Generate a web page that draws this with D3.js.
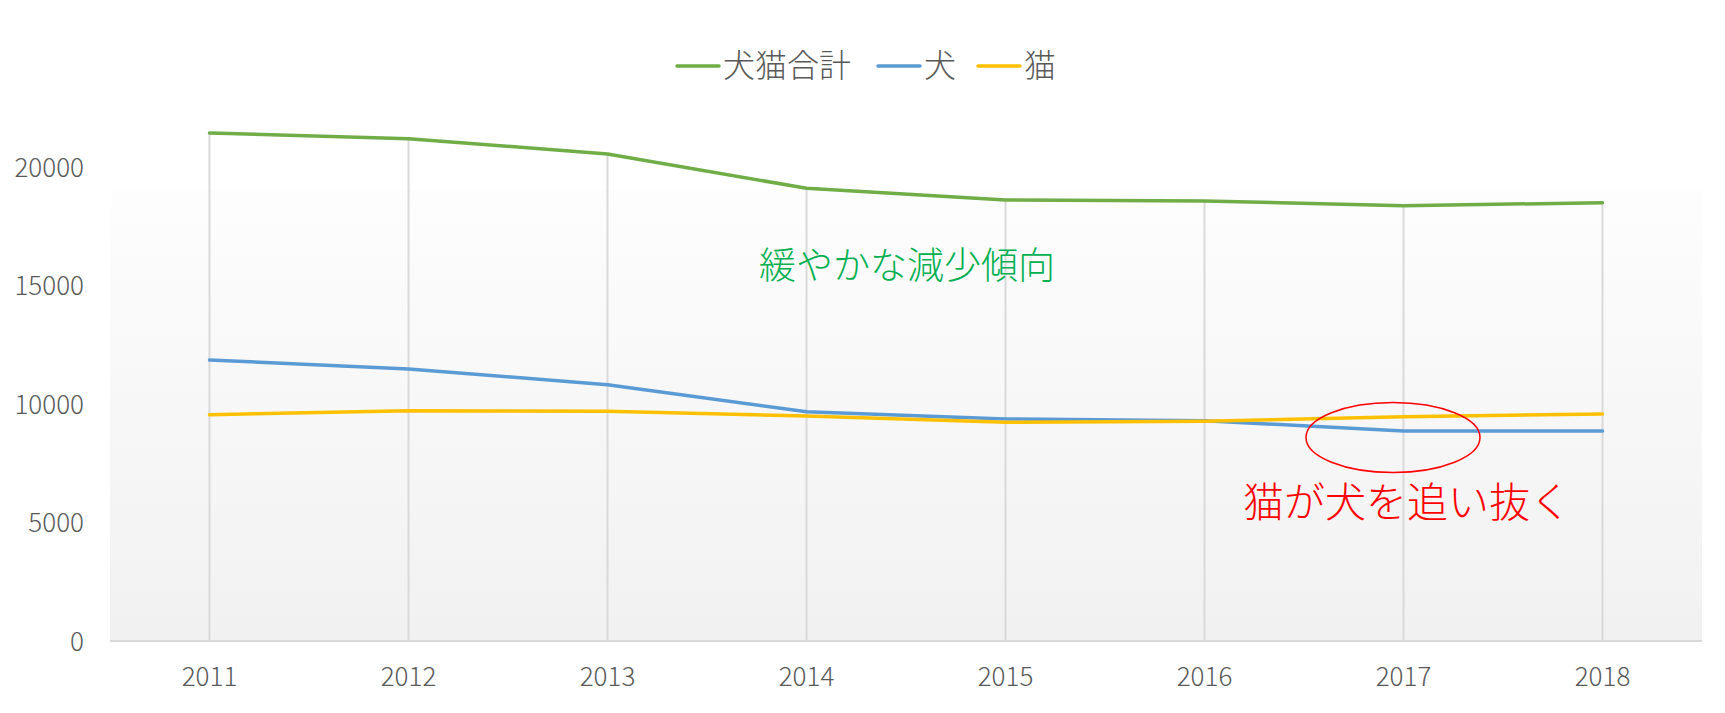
<!DOCTYPE html>
<html>
<head>
<meta charset="utf-8">
<script src="https://cdn.jsdelivr.net/npm/d3@7"></script>
<style>
  html, body { margin: 0; padding: 0; background: #ffffff; }
  svg { display: block; }
  text { font-family: "Noto Sans CJK JP", "Noto Sans", sans-serif; font-weight: 300; }
</style>
</head>
<body>
<svg id="chart" width="1725" height="713"></svg>
<script>
// ---- data ----
const years = ["2011", "2012", "2013", "2014", "2015", "2016", "2017", "2018"];
const totalValues = [21435, 21194, 20549, 19101, 18608, 18565, 18367, 18494];
const dogValues   = [11857, 11477, 10814, 9675, 9367, 9295, 8861, 8861];
const catValues   = [9548, 9717, 9692, 9493, 9228, 9270, 9464, 9578];
const seriesNames = ["犬猫合計", "犬", "猫"];
const yTicks = [0, 5000, 10000, 15000, 20000];
const noteTrend = "緩やかな減少傾向";
const noteCross = "猫が犬を追い抜く";

const seriesColors = ["#70AD47", "#5B9BD5", "#FFC000"];
const series = [totalValues, dogValues, catValues].map((vals, i) => ({
  name: seriesNames[i], color: seriesColors[i], values: vals
}));

// ---- layout ----
const svg = d3.select("#chart");
const plot = { left: 110, right: 1702, top: 190, bottom: 641 };

const x = d3.scaleBand().domain(years).range([plot.left, plot.right]);
const y = d3.scaleLinear().domain([0, 20000]).range([641, 167]);
const cx = d => x(d) + x.bandwidth() / 2;

// plot-area gradient background
const defs = svg.append("defs");
const grad = defs.append("linearGradient").attr("id", "bg")
  .attr("x1", 0).attr("y1", 0).attr("x2", 0).attr("y2", 1);
grad.append("stop").attr("offset", "0%").attr("stop-color", "#fdfdfd");
grad.append("stop").attr("offset", "100%").attr("stop-color", "#f1f1f1");
svg.append("rect")
  .attr("x", plot.left).attr("y", plot.top)
  .attr("width", plot.right - plot.left).attr("height", plot.bottom - plot.top)
  .attr("fill", "url(#bg)");

// drop lines (from the highest point down to the category axis)
svg.append("g").selectAll("line").data(years).join("line")
  .attr("x1", d => cx(d)).attr("x2", d => cx(d))
  .attr("y1", (d, i) => y(d3.max(series, s => s.values[i])))
  .attr("y2", y(0))
  .attr("stroke", "#d9d9d9").attr("stroke-width", 2);

// category axis line
svg.append("line")
  .attr("x1", plot.left).attr("x2", plot.right)
  .attr("y1", y(0)).attr("y2", y(0))
  .attr("stroke", "#d9d9d9").attr("stroke-width", 2);

// y axis labels
const yAxis = d3.axisLeft(y).tickValues(yTicks).tickSize(0).tickPadding(0)
  .tickFormat(d3.format("d"));
const gy = svg.append("g").attr("transform", "translate(84,0)").call(yAxis);
gy.select(".domain").remove();
gy.selectAll("text")
  .attr("fill", "#595959").style("font-size", "26px")
  .attr("dy", "0.35em")
  .style("font-family", "\"Noto Sans CJK JP\", sans-serif")
  .style("font-weight", 300);

// x axis labels
const xAxis = d3.axisBottom(x).tickSize(0).tickPadding(0);
const gx = svg.append("g").attr("transform", "translate(0,677)").call(xAxis);
gx.select(".domain").remove();
gx.selectAll("text")
  .attr("fill", "#595959").style("font-size", "26px")
  .attr("dy", "0.35em")
  .style("font-family", "\"Noto Sans CJK JP\", sans-serif")
  .style("font-weight", 300);

// lines
const line = d3.line()
  .x((d, i) => cx(years[i]))
  .y(d => y(d));
svg.append("g").selectAll("path").data(series).join("path")
  .attr("d", s => line(s.values))
  .attr("fill", "none")
  .attr("stroke", s => s.color)
  .attr("stroke-width", 3.5)
  .attr("stroke-linecap", "round")
  .attr("stroke-linejoin", "round");

// legend
const legendX = [677, 878, 978];
const lg = svg.append("g").selectAll("g").data(series).join("g")
  .attr("transform", (s, i) => `translate(${legendX[i]},66)`);
lg.append("line")
  .attr("x1", 0).attr("x2", 42).attr("y1", 0).attr("y2", 0)
  .attr("stroke", s => s.color).attr("stroke-width", 3.5)
  .attr("stroke-linecap", "round");
lg.append("text")
  .attr("x", 46).attr("y", 0).attr("dy", "0.35em")
  .attr("fill", "#595959").style("font-size", "32px")
  .text(s => s.name);

// annotations
svg.append("text")
  .attr("x", 907).attr("y", 266).attr("dy", "0.35em")
  .attr("text-anchor", "middle")
  .attr("fill", "#00B050").style("font-size", "37px")
  .text(noteTrend);

svg.append("ellipse")
  .attr("cx", 1393).attr("cy", 437.5).attr("rx", 87).attr("ry", 35)
  .attr("fill", "none").attr("stroke", "#FF0000").attr("stroke-width", 1.5);

svg.append("text")
  .attr("x", 1407).attr("y", 503).attr("dy", "0.35em")
  .attr("text-anchor", "middle")
  .attr("fill", "#FF0000").style("font-size", "41px")
  .text(noteCross);
</script>
</body>
</html>
